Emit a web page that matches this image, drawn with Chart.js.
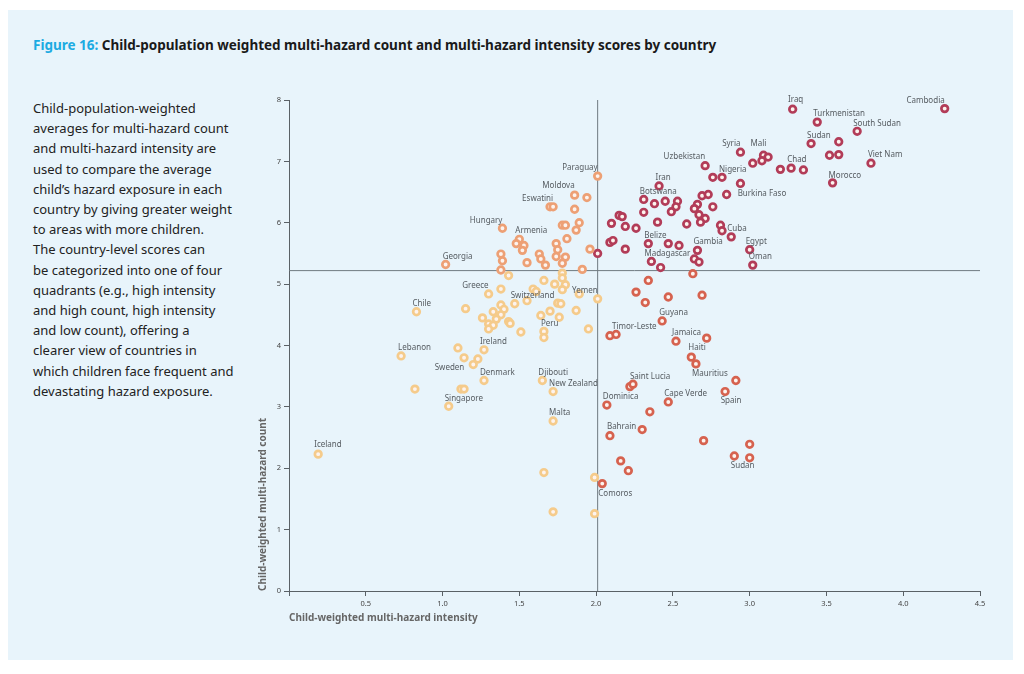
<!DOCTYPE html>
<html>
<head>
<meta charset="utf-8">
<script src="https://cdn.jsdelivr.net/npm/chart.js@4.4.1/dist/chart.umd.min.js"></script>
<style>
    body { margin: 0; background: #fff; font-family: "Noto Sans", sans-serif; }
    #panel { position: absolute; left: 8px; top: 10px; width: 1005px; height: 650px; background: #E8F4FB; }
    #title { position: absolute; left: 33px; top: 36px; font-size: 13.5px; font-weight: bold; color: #1a1a1a; white-space: nowrap; }
    #title span { color: #1CABE2; }
    #note { position: absolute; left: 33px; top: 98px; font-size: 13px; line-height: 20.2px; color: #222; white-space: nowrap; }
    #chart { position: absolute; left: 0; top: 0; }
</style>
</head>
<body>
<div id="panel"></div>
<div id="title"><span>Figure 16:</span> Child-population weighted multi-hazard count and multi-hazard intensity scores by country</div>
<div id="note">Child-population-weighted<br>averages for multi-hazard count<br>and multi-hazard intensity are<br>used to compare the average<br>child’s hazard exposure in each<br>country by giving greater weight<br>to areas with more children.<br>The country-level scores can<br>be categorized into one of four<br>quadrants (e.g., high intensity<br>and high count, high intensity<br>and low count), offering a<br>clearer view of countries in<br>which children face frequent and<br>devastating hazard exposure.</div>
<canvas id="chart" width="1024" height="674"></canvas>
<script>
// quadrant split values
var intensityMid = 2.01;
var countMid = 5.22;

// high intensity, high count
var hhIntensity = [3.28, 4.27, 3.44, 3.70, 3.40, 3.58, 3.52, 3.58, 3.79, 3.54,
    2.94, 3.09, 3.12, 3.08, 3.02, 3.27, 3.20, 3.35, 2.71, 2.76,
    2.82, 2.94, 2.85, 2.41, 2.31, 2.38, 2.45, 2.53, 2.52, 2.49,
    2.31, 2.69, 2.73, 2.66, 2.64, 2.76, 2.67, 2.71, 2.68, 2.15,
    2.17, 2.10, 2.19, 2.26, 2.40, 2.59, 2.81, 2.82, 2.88, 2.09,
    2.11, 2.19, 2.34, 2.47, 2.54, 2.66, 2.36, 2.42, 2.64, 2.67,
    3.00, 3.02, 2.01];
var hhCount = [7.85, 7.86, 7.64, 7.49, 7.29, 7.32, 7.10, 7.11, 6.97, 6.65,
    7.15, 7.10, 7.07, 7.01, 6.97, 6.89, 6.87, 6.86, 6.93, 6.74,
    6.74, 6.64, 6.46, 6.60, 6.38, 6.31, 6.35, 6.35, 6.26, 6.18,
    6.17, 6.44, 6.46, 6.30, 6.23, 6.26, 6.13, 6.07, 6.01, 6.12,
    6.10, 5.99, 5.94, 5.91, 6.01, 5.98, 5.96, 5.87, 5.77, 5.68,
    5.71, 5.57, 5.66, 5.66, 5.63, 5.55, 5.37, 5.27, 5.41, 5.36,
    5.56, 5.31, 5.50];
var hhNames = ['Iraq', 'Cambodia', 'Turkmenistan', 'South Sudan', 'Sudan', '', '', '', 'Viet Nam', 'Morocco',
    'Syria', 'Mali', '', '', '', 'Chad', '', '', 'Uzbekistan', '',
    'Nigeria', '', 'Burkina Faso', 'Iran', 'Botswana', '', '', '', '', '',
    '', '', '', '', '', '', '', '', '', '',
    '', '', '', '', '', '', '', '', 'Cuba', '',
    '', '', 'Belize', '', '', 'Gambia', 'Madagascar', '', '', '',
    'Egypt', 'Oman', ''];

// high intensity, low count
var hlIntensity = [2.34, 2.63, 2.26, 2.47, 2.69, 2.32, 2.43, 2.09, 2.13, 2.52,
    2.72, 2.62, 2.65, 2.91, 2.84, 2.22, 2.24, 2.47, 2.07, 2.35,
    2.09, 2.30, 2.70, 3.00, 2.90, 3.00, 2.16, 2.21, 2.04];
var hlCount = [5.06, 5.17, 4.87, 4.79, 4.82, 4.70, 4.40, 4.16, 4.18, 4.07,
    4.12, 3.81, 3.70, 3.43, 3.25, 3.33, 3.37, 3.08, 3.03, 2.92,
    2.53, 2.63, 2.45, 2.39, 2.20, 2.17, 2.12, 1.96, 1.75];
var hlNames = ['', '', '', '', '', '', 'Guyana', 'Timor-Leste', '', 'Jamaica',
    '', 'Haiti', '', 'Mauritius', 'Spain', 'Saint Lucia', '', 'Cape Verde', 'Dominica', '',
    'Bahrain', '', '', '', '', 'Sudan', '', '', 'Comoros'];

// low intensity, high count
var lhIntensity = [2.01, 1.86, 1.94, 1.70, 1.72, 1.86, 1.39, 1.78, 1.80, 1.89,
    1.87, 1.50, 1.48, 1.53, 1.52, 1.81, 1.74, 1.75, 1.74, 1.80,
    1.78, 1.63, 1.64, 1.67, 1.55, 1.38, 1.39, 1.38, 1.02, 1.96,
    1.91];
var lhCount = [6.76, 6.45, 6.41, 6.26, 6.26, 6.22, 5.91, 5.96, 5.96, 6.00,
    5.88, 5.73, 5.66, 5.63, 5.55, 5.74, 5.66, 5.56, 5.45, 5.44,
    5.34, 5.49, 5.41, 5.31, 5.35, 5.49, 5.38, 5.23, 5.32, 5.57,
    5.24];
var lhNames = ['Paraguay', 'Moldova', '', '', 'Eswatini', '', 'Hungary', '', '', '',
    '', 'Armenia', '', '', '', '', '', '', '', '',
    '', '', '', '', '', '', '', '', 'Georgia', '',
    ''];

// low intensity, low count
var llIntensity = [1.43, 1.78, 1.78, 1.66, 1.73, 1.80, 1.78, 1.38, 1.30, 1.59,
    1.61, 1.55, 1.47, 1.89, 2.01, 1.75, 1.77, 1.87, 1.64, 1.70,
    1.76, 0.83, 1.15, 1.38, 1.40, 1.33, 1.38, 1.26, 1.35, 1.30,
    1.33, 1.30, 1.43, 1.44, 1.51, 1.95, 1.66, 1.66, 1.27, 1.10,
    1.14, 1.23, 1.20, 0.73, 1.27, 1.65, 0.82, 1.12, 1.14, 1.72,
    1.04, 1.72, 0.19, 1.66, 1.99, 1.72, 1.99];
var llCount = [5.14, 5.18, 5.10, 5.06, 5.00, 4.99, 4.91, 4.92, 4.84, 4.92,
    4.88, 4.73, 4.68, 4.84, 4.76, 4.69, 4.68, 4.57, 4.49, 4.56,
    4.46, 4.55, 4.60, 4.66, 4.59, 4.55, 4.50, 4.45, 4.43, 4.35,
    4.33, 4.27, 4.39, 4.36, 4.22, 4.27, 4.23, 4.13, 3.93, 3.96,
    3.80, 3.78, 3.69, 3.83, 3.43, 3.43, 3.29, 3.29, 3.29, 3.25,
    3.01, 2.77, 2.23, 1.93, 1.85, 1.29, 1.26];
var llNames = ['', '', '', '', '', '', '', '', 'Greece', '',
    '', '', 'Switzerland', '', 'Yemen', '', '', '', '', '',
    '', 'Chile', '', '', '', '', '', '', '', '',
    '', '', '', '', '', '', 'Peru', '', 'Ireland', '',
    '', '', 'Sweden', 'Lebanon', 'Denmark', 'Djibouti', '', '', '', 'New Zealand',
    'Singapore', 'Malta', 'Iceland', '', '', '', ''];

// where each name sits next to its point: [align, dx, dy]
var hhLabelPos = {
    'Iraq': ['center', 3, -9], 'Cambodia': ['right', 0, -8], 'Turkmenistan': ['left', -4, -8],
    'South Sudan': ['left', -4, -8], 'Sudan': ['left', -4, -8], 'Viet Nam': ['left', -3, -8],
    'Morocco': ['left', -4, -7], 'Syria': ['right', 0, -8], 'Mali': ['center', -5, -12],
    'Chad': ['left', -4, -8], 'Uzbekistan': ['right', 0, -9], 'Nigeria': ['left', -3, -8],
    'Burkina Faso': ['left', 11, -1], 'Iran': ['center', 4, -8], 'Botswana': ['left', -4, -8],
    'Cuba': ['left', -4, -8], 'Belize': ['left', -4, -8], 'Gambia': ['left', -4, -9],
    'Madagascar': ['left', -7, -8], 'Egypt': ['left', -4, -8], 'Oman': ['left', -4, -8]
};
var hlLabelPos = {
    'Guyana': ['left', -3, -8], 'Timor-Leste': ['left', 2, -9], 'Jamaica': ['left', -4, -8],
    'Haiti': ['left', -3, -9], 'Mauritius': ['right', -8, -7], 'Spain': ['center', 6, 9],
    'Saint Lucia': ['left', 0, -10], 'Cape Verde': ['left', -4, -8], 'Dominica': ['left', -4, -8],
    'Bahrain': ['left', -3, -9], 'Sudan': ['center', -7, 8], 'Comoros': ['left', -4, 10]
};
var lhLabelPos = {
    'Paraguay': ['right', 0, -8], 'Moldova': ['right', 0, -9], 'Eswatini': ['right', 0, -8],
    'Hungary': ['right', 0, -8], 'Armenia': ['left', -4, -9], 'Georgia': ['left', -3, -8]
};
var llLabelPos = {
    'Greece': ['right', 0, -8], 'Switzerland': ['left', -4, -8], 'Yemen': ['right', 0, -8],
    'Chile': ['left', -4, -8], 'Peru': ['left', -3, -8], 'Ireland': ['left', -4, -8],
    'Sweden': ['right', -9, 3], 'Lebanon': ['left', -3, -8], 'Denmark': ['left', -4, -8],
    'Djibouti': ['left', -4, -8], 'New Zealand': ['left', -4, -8], 'Singapore': ['left', -4, -8],
    'Malta': ['left', -4, -8], 'Iceland': ['left', -4, -9]
};

function makePoints(xs, ys) {
    return xs.map(function (x, i) { return { x: x, y: ys[i] }; });
}

function makeDataset(xs, ys, names, labelPos, color) {
    return {
        data: makePoints(xs, ys),
        names: names,
        labelPos: labelPos,
        borderColor: color,
        backgroundColor: '#FDF3EE',
        pointRadius: 3.3,
        pointBorderWidth: 2.7,
        pointHoverRadius: 3.3
    };
}

// quadrant split lines, drawn under the points
var quadrantLines = {
    id: 'quadrantLines',
    beforeDatasetsDraw: function (chart) {
        var ctx = chart.ctx;
        var xs = chart.scales.x, ys = chart.scales.y;
        var px = xs.getPixelForValue(intensityMid);
        var py = ys.getPixelForValue(countMid);
        ctx.save();
        ctx.strokeStyle = '#6f7a80';
        ctx.lineWidth = 1;
        ctx.beginPath();
        ctx.moveTo(px, ys.getPixelForValue(8));
        ctx.lineTo(px, ys.getPixelForValue(0));
        ctx.moveTo(xs.getPixelForValue(0), py);
        ctx.lineTo(xs.getPixelForValue(4.5), py);
        ctx.stroke();
        ctx.restore();
    }
};

// country names next to their points
var countryLabels = {
    id: 'countryLabels',
    afterDatasetsDraw: function (chart) {
        var ctx = chart.ctx;
        ctx.save();
        ctx.font = '8px "Noto Sans"';
        ctx.fillStyle = '#555b60';
        ctx.textBaseline = 'middle';
        chart.data.datasets.forEach(function (ds, i) {
            var meta = chart.getDatasetMeta(i);
            ds.names.forEach(function (name, j) {
                if (!name) return;
                var p = meta.data[j];
                var pos = ds.labelPos[name] || ['left', -4, -8];
                ctx.textAlign = pos[0];
                ctx.fillText(name, p.x + pos[1], p.y + pos[2]);
            });
        });
        ctx.restore();
    }
};

var axisColor = '#5a6166';

var ctx = document.getElementById('chart').getContext('2d');
var myChart = new Chart(ctx, {
    type: 'scatter',
    data: {
        datasets: [
            makeDataset(llIntensity, llCount, llNames, llLabelPos, '#F5CB8B'),
            makeDataset(lhIntensity, lhCount, lhNames, lhLabelPos, '#EDA075'),
            makeDataset(hlIntensity, hlCount, hlNames, hlLabelPos, '#D6624F'),
            makeDataset(hhIntensity, hhCount, hhNames, hhLabelPos, '#B23C58')
        ]
    },
    options: {
        responsive: false,
        animation: false,
        events: [],
        layout: { padding: { left: 253, right: 44, top: 100, bottom: 46 } },
        plugins: {
            legend: { display: false },
            tooltip: { enabled: false }
        },
        scales: {
            x: {
                type: 'linear',
                min: 0,
                max: 4.5,
                border: { color: axisColor, width: 1 },
                grid: { drawOnChartArea: false, drawTicks: true, tickLength: 5, color: axisColor },
                ticks: {
                    stepSize: 0.5,
                    padding: 3,
                    color: '#444',
                    font: { size: 7.5, family: '"Noto Sans"' },
                    callback: function (v) { return v === 0 ? '' : v.toFixed(1); }
                },
                title: {
                    display: true,
                    text: 'Child-weighted multi-hazard intensity',
                    align: 'start',
                    color: '#666',
                    font: { size: 10, weight: 'bold', family: '"Noto Sans"' }
                },
                afterFit: function (scale) { scale.height = 37; }
            },
            y: {
                type: 'linear',
                min: 0,
                max: 8,
                border: { color: axisColor, width: 1 },
                grid: { drawOnChartArea: false, drawTicks: true, tickLength: 5, color: axisColor },
                ticks: {
                    stepSize: 1,
                    padding: 3,
                    color: '#444',
                    font: { size: 7.5, family: '"Noto Sans"' }
                },
                title: {
                    display: true,
                    text: 'Child-weighted multi-hazard count',
                    align: 'start',
                    color: '#666',
                    font: { size: 10, weight: 'bold', family: '"Noto Sans"' }
                },
                afterFit: function (scale) { scale.width = 36; }
            }
        }
    },
    plugins: [quadrantLines, countryLabels]
});
</script>
</body>
</html>
